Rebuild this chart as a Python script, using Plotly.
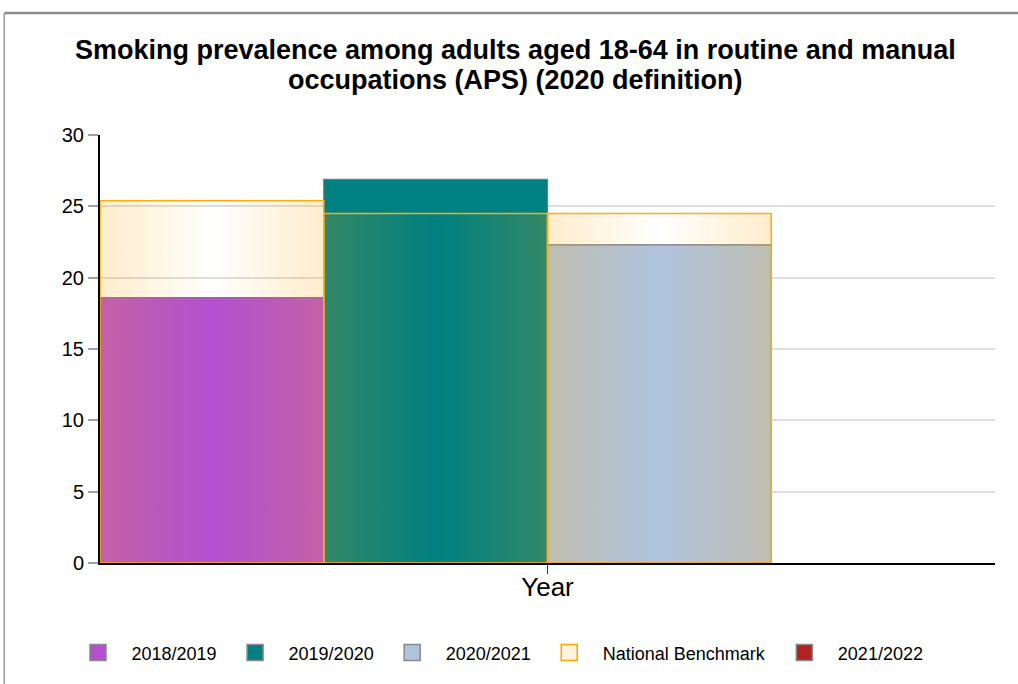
import plotly.graph_objects as go

# Reporting periods, one bar slot each (2021/2022 has no value yet)
periods = ["2018/2019", "2019/2020", "2020/2021", "2021/2022"]
prevalence = [18.6, 26.9, 22.3, None]
benchmark = [25.4, 24.5, 24.5, None]
bar_colors = ["#b450d0", "#008080", "#b0c4de", "#b22222"]
benchmark_name = "National Benchmark"

y_ticks = [0, 5, 10, 15, 20, 25, 30]
category_label = "Year"
title_lines = ["Smoking prevalence among adults aged 18-64 in routine and manual",
               "occupations (APS) (2020 definition)"]

FONT = "Liberation Sans, Arial, sans-serif"
ORANGE = "#ffa500"

fig = go.Figure()

# Solid bars, one per period, side by side across the single category
for i, (name, val, col) in enumerate(zip(periods, prevalence, bar_colors)):
    fig.add_trace(go.Bar(
        x=[i + 0.5] if val is not None else [None],
        y=[val] if val is not None else [None],
        width=1,
        name=name,
        marker=dict(color=col, line=dict(color="#777777", width=1.2)),
        hoverinfo="skip",
        showlegend=False,
    ))

# Benchmark overlay: translucent orange, fading to clear in the middle
grad = [[0.0, "rgba(255,165,0,0.20)"], [0.5, "rgba(255,165,0,0.0)"],
        [1.0, "rgba(255,165,0,0.20)"]]
for i, b in enumerate(benchmark):
    if b is None:
        continue
    x0, x1 = i, i + 1
    fig.add_trace(go.Scatter(
        x=[x0, x0, x1, x1, x0],
        y=[0, b, b, 0, 0],
        mode="lines",
        fill="toself",
        fillgradient=dict(type="horizontal", colorscale=grad),
        line=dict(color="#ffad0a", width=1.5),
        hoverinfo="skip",
        showlegend=False,
    ))

# Legend entries, in display order
legend_items = [(periods[0], bar_colors[0], "#888888"),
                (periods[1], bar_colors[1], "#888888"),
                (periods[2], bar_colors[2], "#888888"),
                (benchmark_name, "#fff3df", ORANGE),
                (periods[3], bar_colors[3], "#888888")]
for name, col, edge in legend_items:
    fig.add_trace(go.Scatter(
        x=[None], y=[None], name=name, mode="markers",
        marker=dict(symbol="square", size=16, color=col,
                    line=dict(color=edge, width=1.5)),
        showlegend=True, hoverinfo="skip",
    ))

title_annotations = [
    dict(text=f"<b>{line}</b>", xref="paper", yref="paper",
         x=0.4637, y=yp, xanchor="center", yanchor="middle", showarrow=False,
         font=dict(size=27, family=FONT, color="#000000"))
    for line, yp in zip(title_lines, [1.198, 1.128])
]

fig.update_layout(
    width=1018, height=684,
    barmode="overlay",
    paper_bgcolor="white", plot_bgcolor="white",
    margin=dict(l=100, r=23, t=135, b=121),
    font=dict(family=FONT, color="#000000"),
    annotations=title_annotations,
    xaxis=dict(
        range=[0, 4], tickvals=[2], ticktext=[category_label],
        showgrid=False, zeroline=False,
        showline=True, linecolor="#000000", linewidth=2,
        ticks="outside", ticklen=9, tickcolor="#333333", tickwidth=1,
        tickfont=dict(size=26, family=FONT, color="#000000"),
        ticklabelstandoff=-9,
        fixedrange=True,
    ),
    yaxis=dict(
        range=[0, 30], tickvals=y_ticks,
        showgrid=True, gridcolor="#dedede", gridwidth=2,
        zeroline=False,
        showline=True, linecolor="#000000", linewidth=2,
        ticks="outside", ticklen=10, tickcolor="#a0a0a0", tickwidth=1.5,
        tickfont=dict(size=20, family=FONT, color="#000000"),
        fixedrange=True,
    ),
    legend=dict(
        orientation="h", x=0.443, xanchor="center", y=-0.21, yanchor="middle",
        font=dict(size=18, family=FONT, color="#000000"),
        traceorder="normal", itemwidth=57,
    ),
    shapes=[
        # frame around the chart (top and left edges visible)
        dict(type="line", xref="paper", yref="paper",
             x0=-0.107, x1=1.05, y0=1.285, y1=1.285,
             line=dict(color="#8a8a8a", width=2.5)),
        dict(type="line", xref="paper", yref="paper",
             x0=-0.107, x1=-0.107, y0=1.285, y1=-0.3,
             line=dict(color="#9a9a9a", width=1.5)),
    ],
)

fig.write_html("out.html")
